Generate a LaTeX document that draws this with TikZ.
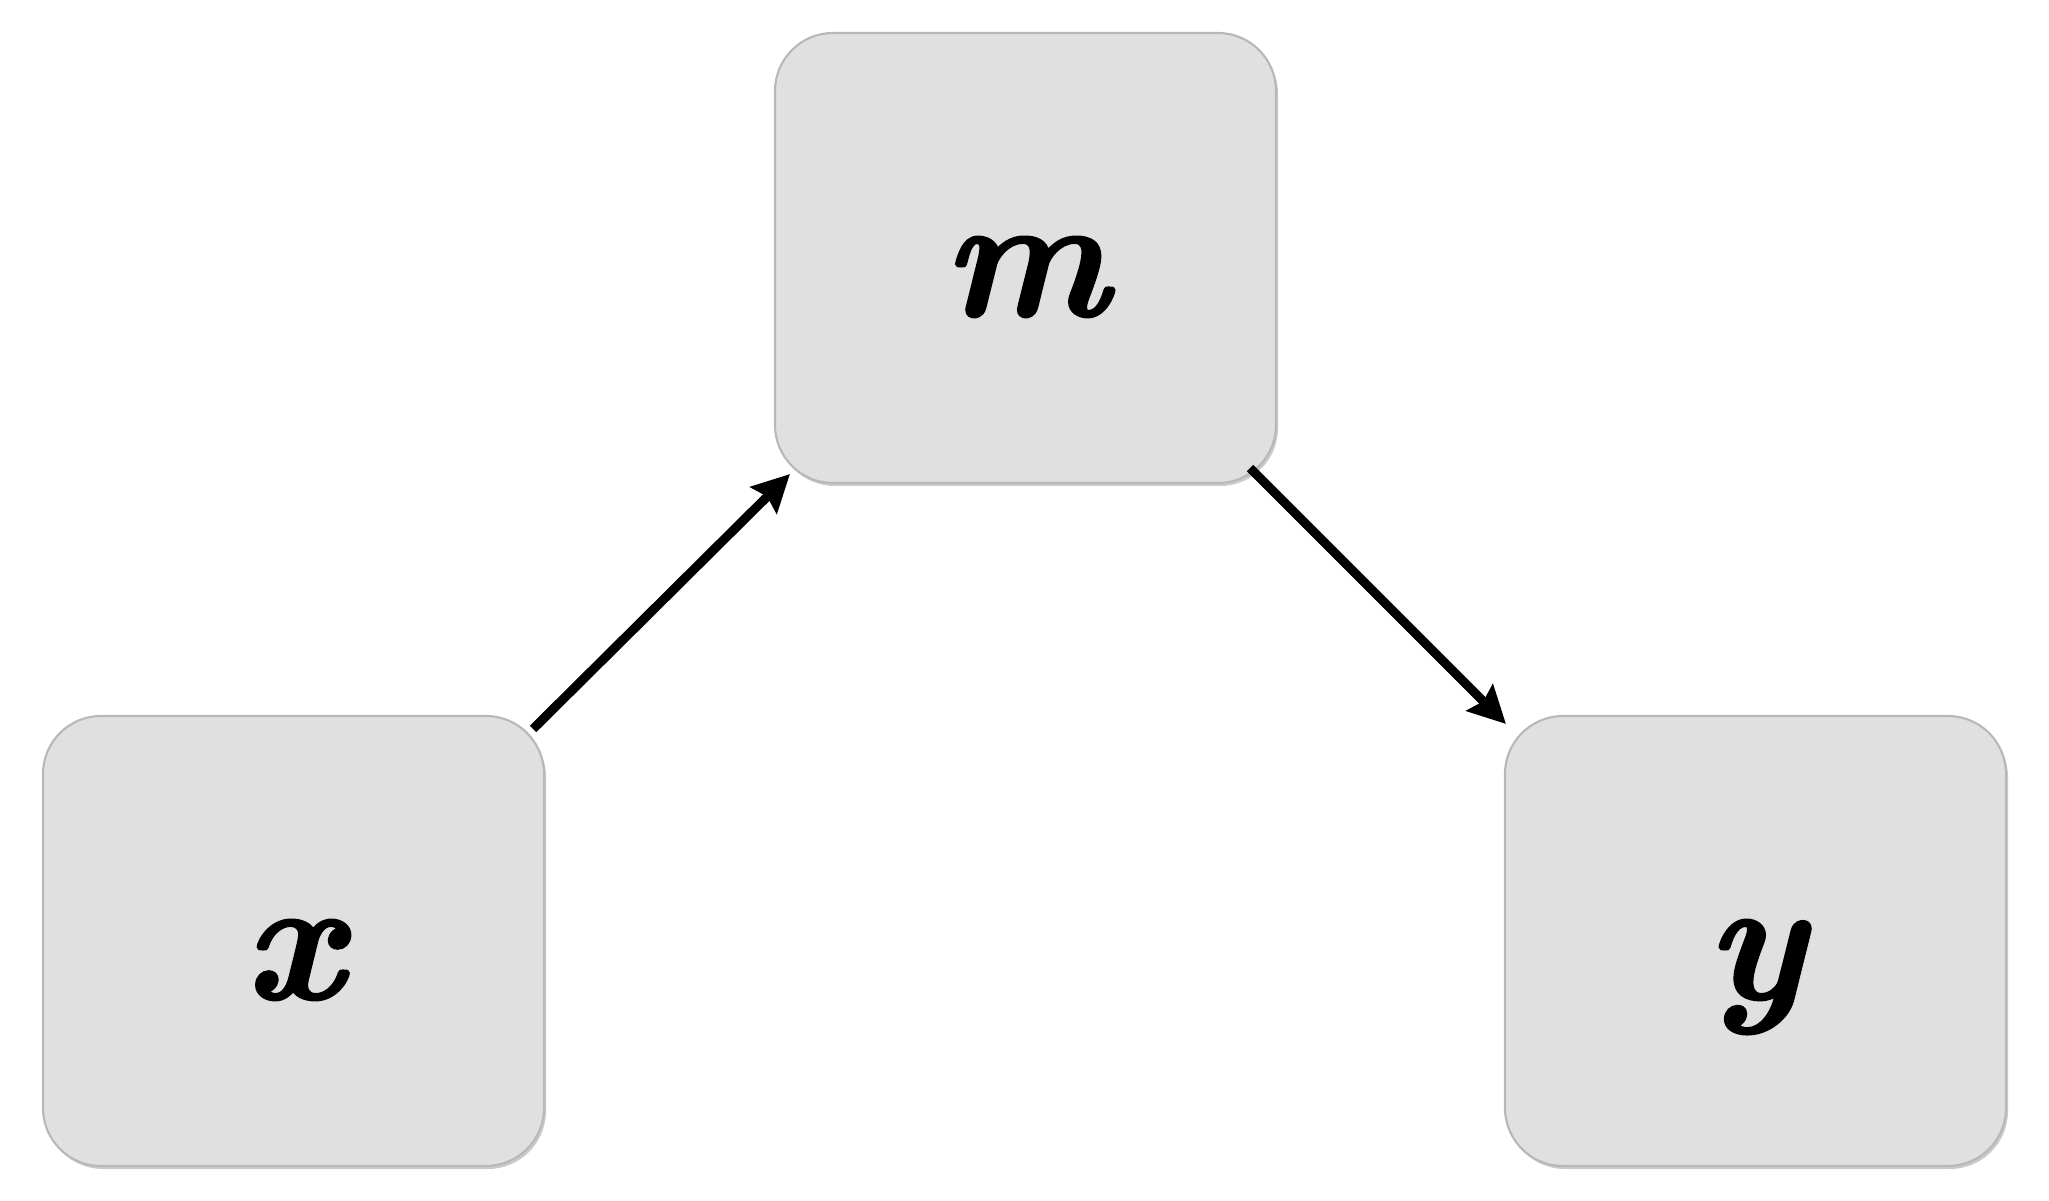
\documentclass[tikz,border=0pt]{standalone}
\usepackage{fontspec}
\newfontfamily\symfont[FakeBold=1.2]{Latin Modern Roman}
\usetikzlibrary{arrows.meta,shadows,calc}
\definecolor{boxfill}{HTML}{E0E0E0}
\definecolor{boxline}{HTML}{B8B8B8}
\newcommand{\varsym}[1]{{\symfont\bfseries\itshape\fontsize{50}{60}\selectfont #1}}
\begin{document}
\begin{tikzpicture}[
  varbox/.style={draw=boxline, line width=0.6pt, fill=boxfill, rounded corners=0.58cm,
    minimum width=5.01cm, minimum height=4.50cm, inner sep=0pt,
    text height=1.16cm, text depth=0cm,
    drop shadow={shadow xshift=0.02cm, shadow yshift=-0.03cm, opacity=0.35, fill=black!60}},
  link/.style={line width=2.6pt, -{Stealth[length=0.37cm, width=0.37cm, inset=0.05cm]}}
]
\useasboundingbox (0,0) rectangle (20.49,12);
\node[varbox] (m) at (10.255,9.42) {\varsym{m}};
\node[varbox] (x) at (2.935,2.59) {\varsym{x}};
\node[varbox] (y) at (17.555,2.59) {\varsym{y}};
\draw[link] ($(x.north east)+(-0.12,-0.14)$) -- ($(m.south west)+(0.16,0.10)$);
\draw[link] ($(m.south east)+(-0.27,0.16)$) -- ($(y.north west)+(0.02,-0.09)$);
\end{tikzpicture}
\end{document}
